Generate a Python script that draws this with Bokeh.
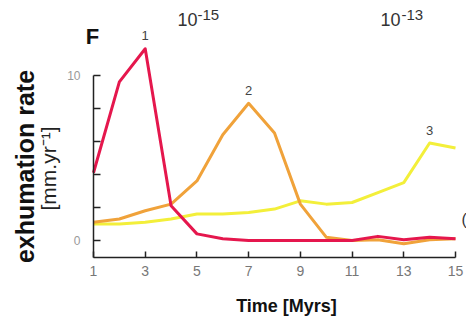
from bokeh.plotting import figure
from bokeh.models import Label, FixedTicker, Range1d
from bokeh.embed import file_html
from bokeh.resources import INLINE
import math

# ---- data ----
time = [1, 2, 3, 4, 5, 6, 7, 8, 9, 10, 11, 12, 13, 14, 15]
red_rate = [4.1, 9.6, 11.6, 2.1, 0.4, 0.1, 0.0, 0.0, 0.0, 0.0, 0.0, 0.25, 0.05, 0.2, 0.1]
orange_rate = [1.1, 1.3, 1.8, 2.2, 3.6, 6.4, 8.3, 6.5, 2.2, 0.2, 0.0, 0.05, -0.2, 0.05, 0.1]
yellow_rate = [1.0, 1.0, 1.1, 1.3, 1.6, 1.6, 1.7, 1.9, 2.4, 2.2, 2.3, 2.9, 3.5, 5.9, 5.6]
x_ticks = [1, 3, 5, 7, 9, 11, 13, 15]
y_ticks = [0, 2, 4, 6, 8, 10]
y_tick_text = {0: "0", 10: "10"}
peak_names = ["1", "2", "3"]

RED = "#e5174d"
ORANGE = "#f0a23a"
YELLOW = "#f3ef3a"

W, H = 466, 317
X0_PX, PX_X = 93.0, 25.857      # x = 1 at this pixel, pixels per Myr
Y0_PX, PX_Y = 240.0, 16.53      # y = 0 at this pixel, pixels per mm/yr
Y_AXIS_BOTTOM = -1.03

def dx(px):
    return 1 + (px - X0_PX) / PX_X

def dy(py):
    return (Y0_PX - py) / PX_Y

p = figure(frame_width=W, frame_height=H, min_border=0,
           x_range=Range1d(dx(0), dx(W)), y_range=Range1d(dy(H), dy(0)),
           output_backend="svg", toolbar_location=None)
p.outline_line_color = None
p.xgrid.visible = False
p.ygrid.visible = False
p.background_fill_color = "white"
p.border_fill_color = "white"

for series, col in [(yellow_rate, YELLOW), (orange_rate, ORANGE), (red_rate, RED)]:
    p.line(time, series, line_color=col, line_width=3, line_join="round")

# axes, pinned inside the frame
xa = p.xaxis[0]
xa.fixed_location = Y_AXIS_BOTTOM
xa.ticker = FixedTicker(ticks=x_ticks)
xa.bounds = (1, 15)
xa.axis_line_color = "#222222"
xa.axis_line_width = 1.5
xa.major_tick_line_color = "#222222"
xa.major_tick_line_width = 1.5
xa.major_tick_in = 6
xa.major_tick_out = 0
xa.minor_tick_line_color = None
xa.major_label_text_font = "Liberation Sans"
xa.major_label_text_font_size = "14px"
xa.major_label_text_color = "#777777"
xa.major_label_standoff = 8

ya = p.yaxis[0]
ya.fixed_location = 1
ya.ticker = FixedTicker(ticks=y_ticks)
ya.bounds = (Y_AXIS_BOTTOM, 10)
ya.axis_line_color = "#222222"
ya.axis_line_width = 1.5
ya.major_tick_line_color = "#222222"
ya.major_tick_line_width = 1.5
ya.major_tick_in = 7
ya.major_tick_out = 0
ya.minor_tick_line_color = None
ya.major_label_overrides = {t: y_tick_text.get(t, "") for t in y_ticks}
ya.major_label_text_font = "Liberation Sans"
ya.major_label_text_font_size = "12px"
ya.major_label_text_color = "#999999"
ya.major_label_standoff = 13

# peak labels, placed from the data
for name, series in zip(peak_names, [red_rate, orange_rate, yellow_rate]):
    i = series.index(max(series))
    p.add_layout(Label(x=time[i], y=series[i] + 0.5, text=name,
                       text_align="center", text_baseline="bottom",
                       text_font="Liberation Sans", text_font_size="13px",
                       text_color="#444444"))

def lab(px, py, t, size, bold=False, color="#111111", align="center",
        baseline="middle", angle=0.0):
    p.add_layout(Label(x=dx(px), y=dy(py), text=t, text_font="Liberation Sans",
                       text_font_size=size,
                       text_font_style="bold" if bold else "normal",
                       text_color=color, text_align=align,
                       text_baseline=baseline, angle=angle))

lab(92, 36, "F", "22px", bold=True)
lab(177, 19, "10", "18px", color="#333333", align="left")
lab(197, 14, "-15", "15px", color="#333333", align="left")
lab(380, 19, "10", "18px", color="#333333", align="left")
lab(401, 14, "-13", "15px", color="#333333", align="left")
lab(24, 166, "exhumation rate", "25px", bold=True, angle=math.pi / 2)
lab(48, 168, "[mm.yr\u207b\u00b9]", "21px", color="#222222", angle=math.pi / 2)
lab(286, 295, "Time [Myrs]", "18px", bold=True, baseline="top")
lab(461, 219, "(", "16px", color="#333333", align="left")

open("out.html", "w").write(file_html(p, INLINE))
